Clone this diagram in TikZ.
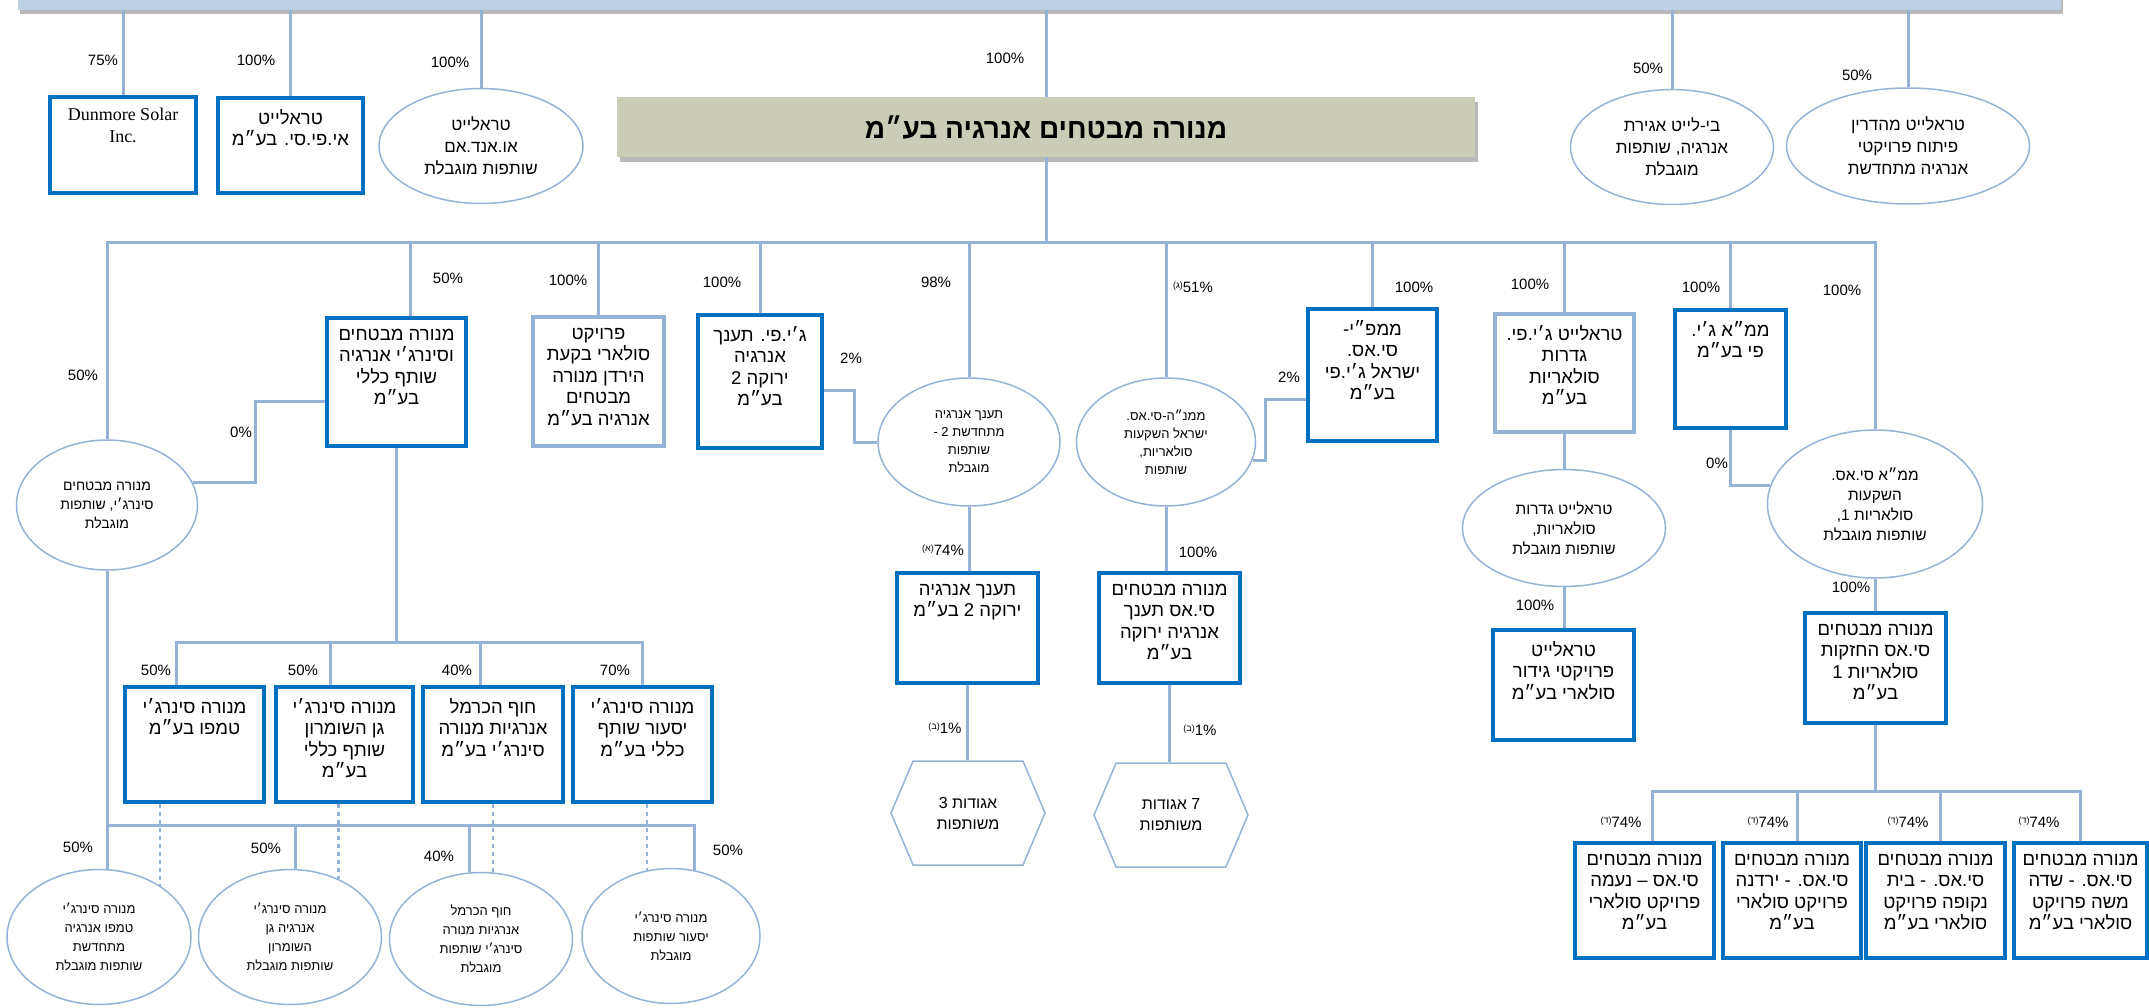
\documentclass[tikz,border=0pt]{standalone}
\usepackage{fontspec}
\setmainfont{Liberation Sans}
\newfontfamily\hebfont[Script=Hebrew]{Liberation Sans}
\newfontfamily\serifont{Liberation Serif}
\TeXXeTstate=1
\usetikzlibrary{shapes.geometric,shapes.symbols,shadows}
\definecolor{boxblue}{RGB}{0,112,192}
\definecolor{lineblue}{RGB}{149,179,215}
\definecolor{barblue}{RGB}{190,208,228}
\definecolor{khaki}{RGB}{202,204,181}
\newcommand{\hb}[1]{{\hebfont\beginR #1\endR}}
\newcommand{\tbox}[3]{\parbox[c][\dimexpr#2pt-22pt\relax][t]{\dimexpr#1pt-10pt\relax}{\centering #3}}
\newcommand{\fn}[1]{\raisebox{4pt}{\fontsize{9}{9}\selectfont(\hb{#1})}}
\tikzset{
  link/.style={draw=lineblue,line width=3pt},
  dotlink/.style={draw=lineblue,line width=2.5pt,dash pattern=on 4pt off 4pt},
  bluebox/.style={rectangle,draw=boxblue,line width=4pt,fill=white,inner xsep=5pt,inner ysep=11pt,font=\fontsize{18.5}{21.5}\selectfont},
  palebox/.style={bluebox,draw=lineblue},
  oval/.style={ellipse,draw=lineblue,line width=1.5pt,fill=white,inner sep=0pt,align=center,font=\fontsize{14}{19}\selectfont},
  bigoval/.style={oval,font=\fontsize{17}{22}\selectfont},
  hexbox/.style={signal,signal to=east and west,signal pointer angle=134,draw=lineblue,line width=1.5pt,fill=white,inner sep=0pt,align=center,font=\fontsize{16}{21}\selectfont},
  pct/.style={inner sep=0pt,font=\fontsize{15}{18}\selectfont},
  topbar/.style={rectangle,fill=barblue,minimum width=2043pt,minimum height=40pt,drop shadow={shadow xshift=2pt,shadow yshift=-4pt,fill=black!55}},
  title/.style={rectangle,fill=khaki,minimum width=858pt,minimum height=60pt,font=\fontsize{28}{32}\selectfont\bfseries,drop shadow={shadow xshift=3pt,shadow yshift=-5pt,fill=black!55}},
}
\begin{document}
\begin{tikzpicture}[x=1pt,y=-1pt]
\useasboundingbox (0,0) rectangle (2149,1008);
\clip (0,0) rectangle (2149,1008);
%owners
\node[topbar] (topbar) at (1039.5,-10) {};
%top row
\node[bluebox,minimum width=146pt,minimum height=96pt] (dunmore) at (123,145) {\tbox{146}{96}{\serifont\fontsize{18}{22}\selectfont Dunmore Solar\\Inc.}};
\node[bluebox,minimum width=145pt,minimum height=95pt] (tlaps) at (290.5,145.5) {\tbox{145}{95}{\hb{טראלייט}\\\hb{אי.פי.סי. בע״מ}}};
\node[bigoval,minimum width=204pt,minimum height=115pt] (tlom) at (481,146) {\hb{טראלייט}\\\hb{או.אנד.אם}\\\hb{שותפות מוגבלת}};
\node[title] (menora) at (1046,127) {\hb{מנורה מבטחים אנרגיה בע״מ}};
\node[bigoval,minimum width=203pt,minimum height=115pt] (blite) at (1672,147) {\hb{בי-לייט אגירת}\\\hb{אנרגיה, שותפות}\\\hb{מוגבלת}};
\node[bigoval,minimum width=243pt,minimum height=116pt] (tlmeh) at (1908,146) {\hb{טראלייט מהדרין}\\\hb{פיתוח פרויקטי}\\\hb{אנרגיה מתחדשת}};
\foreach \n in {dunmore,tlaps,tlom,menora,blite,tlmeh} \draw[link] (topbar.south -| \n.north) -- (\n.north);
\node[pct] (p1) at (103,60) {75\%};
\node[pct] (p2) at (256,60) {100\%};
\node[pct] (p3) at (450,62) {100\%};
\node[pct] (p4) at (1005,58) {100\%};
\node[pct] (p5) at (1648,68) {50\%};
\node[pct] (p6) at (1857,75) {50\%};
%second row
\node[oval,minimum width=181pt,minimum height=130pt] (msyn) at (107,505) {\hb{מנורה מבטחים}\\\hb{סינרג׳י, שותפות}\\\hb{מוגבלת}};
\node[bluebox,minimum width=139pt,minimum height=128pt] (mvsyn) at (396.5,382) {\tbox{139}{128}{\hb{מנורה מבטחים}\\\hb{וסינרג׳י אנרגיה}\\\hb{שותף כללי}\\\hb{בע״מ}}};
\node[palebox,minimum width=131pt,minimum height=129pt] (pbkaat) at (598.5,381.5) {\tbox{131}{129}{\hb{פרויקט}\\\hb{סולארי בקעת}\\\hb{הירדן מנורה}\\\hb{מבטחים}\\\hb{אנרגיה בע״מ}}};
\node[bluebox,minimum width=124pt,minimum height=133pt] (gptaanach) at (760,381.5) {\tbox{124}{133}{\hb{ג׳י.פי. תענך}\\\hb{אנרגיה}\\\hb{ירוקה 2}\\\hb{בע״מ}}};
\node[oval,minimum width=182pt,minimum height=128pt,font=\fontsize{13}{18}\selectfont] (taan2) at (969,442) {\hb{תענך אנרגיה}\\\hb{מתחדשת 2 -}\\\hb{שותפות}\\\hb{מוגבלת}};
\node[oval,minimum width=179pt,minimum height=128pt,font=\fontsize{13}{18}\selectfont] (mmnhcs) at (1166,442) {\hb{ממנ״ה-סי.אס.}\\\hb{ישראל השקעות}\\\hb{סולאריות,}\\\hb{שותפות}};
\node[bluebox,minimum width=129pt,minimum height=132pt] (mmpcs) at (1372.5,375) {\tbox{129}{132}{\hb{ממפ״י-}\\\hb{סי.אס.}\\\hb{ישראל ג׳י.פי}\\\hb{בע״מ}}};
\node[palebox,minimum width=139pt,minimum height=118pt] (tlgp) at (1564.5,373) {\tbox{139}{118}{\hb{טראלייט ג׳י.פי.}\\\hb{גדרות}\\\hb{סולאריות}\\\hb{בע״מ}}};
\node[bluebox,minimum width=111pt,minimum height=118pt] (mmagp) at (1730.5,369) {\tbox{111}{118}{\hb{ממ״א ג׳י.}\\\hb{פי בע״מ}}};
\node[oval,minimum width=215pt,minimum height=148pt,font=\fontsize{15.5}{20}\selectfont] (mmacs) at (1875,504) {\hb{ממ״א סי.אס.}\\\hb{השקעות}\\\hb{סולאריות 1,}\\\hb{שותפות מוגבלת}};
\draw[link] (menora.south) -- ++(0,85) coordinate (b1);
\foreach \n in {msyn.north,mvsyn.78,pbkaat.north,gptaanach.north,taan2.north,mmnhcs.north,mmpcs.north,tlgp.north,mmagp.north,mmacs.north} \draw[link] (b1) -| (\n);
\draw[link] (mvsyn.195) -- ++(-70,0) |- (msyn.15);
\draw[link] (gptaanach.-8) -- ++(30,0) |- (taan2.west);
\draw[link] (mmpcs.200) -- ++(-41,0) |- (mmnhcs.-12);
\draw[link] (mmagp.south) |- (mmacs.170);
\node[pct] (p7) at (83,375) {50\%};
\node[pct] (p8) at (448,278) {50\%};
\node[pct] (p9) at (241,432) {0\%};
\node[pct] (p10) at (568,280) {100\%};
\node[pct] (p11) at (722,282) {100\%};
\node[pct] (p12) at (851,358) {2\%};
\node[pct] (p13) at (936,282) {98\%};
\node[pct] (p14) at (1193,287) {\fn{ג}51\%};
\node[pct] (p15) at (1414,287) {100\%};
\node[pct] (p16) at (1289,377) {2\%};
\node[pct] (p17) at (1530,284) {100\%};
\node[pct] (p18) at (1701,287) {100\%};
\node[pct] (p19) at (1717,463) {0\%};
\node[pct] (p20) at (1842,290) {100\%};
%taanach branch
\node[bluebox,minimum width=141pt,minimum height=110pt] (taangr2) at (967.5,628) {\tbox{141}{110}{\hb{תענך אנרגיה}\\\hb{ירוקה 2 בע״מ}}};
\node[hexbox,minimum width=154pt,minimum height=104pt] (hexa) at (968,813) {\hb{אגודות 3}\\\hb{משותפות}};
\node[bluebox,minimum width=141pt,minimum height=110pt] (mcstaan) at (1169.5,628) {\tbox{141}{110}{\hb{מנורה מבטחים}\\\hb{סי.אס תענך}\\\hb{אנרגיה ירוקה}\\\hb{בע״מ}}};
\node[hexbox,minimum width=154pt,minimum height=104pt] (hexb) at (1171,815) {\hb{7 אגודות}\\\hb{משותפות}};
\draw[link] (taan2.south) -- (taan2.south |- taangr2.north);
\draw[link] (taangr2.south) -- (taangr2.south |- hexa.north);
\draw[link] (mmnhcs.south) -- (mmnhcs.south |- mcstaan.north);
\draw[link] (mcstaan.south) -- (mcstaan.south |- hexb.north);
\node[pct] (p21) at (943,550) {\fn{א}74\%};
\node[pct] (p22) at (945,728) {\fn{ב}1\%};
\node[pct] (p23) at (1198,552) {100\%};
\node[pct] (p24) at (1200,730) {\fn{ב}1\%};
%fences branch
\node[oval,minimum width=203pt,minimum height=117pt,font=\fontsize{15.5}{20}\selectfont] (tlgdr) at (1564,528) {\hb{טראלייט גדרות}\\\hb{סולאריות,}\\\hb{שותפות מוגבלת}};
\node[bluebox,minimum width=141pt,minimum height=110pt] (tlgidur) at (1563.5,685) {\tbox{141}{110}{\hb{טראלייט}\\\hb{פרויקטי גידור}\\\hb{סולארי בע״מ}}};
\draw[link] (tlgp.south) -- (tlgp.south |- tlgdr.north);
\draw[link] (tlgdr.south) -- (tlgdr.south |- tlgidur.north);
\node[pct] (p25) at (1535,605) {100\%};
%holdings branch
\node[bluebox,minimum width=141pt,minimum height=110pt] (mcshold) at (1875.5,668) {\tbox{141}{110}{\hb{מנורה מבטחים}\\\hb{סי.אס החזקות}\\\hb{סולאריות 1}\\\hb{בע״מ}}};
\node[bluebox,minimum width=139pt,minimum height=115pt] (pna) at (1644.5,900.5) {\tbox{139}{115}{\hb{מנורה מבטחים}\\\hb{סי.אס – נעמה}\\\hb{פרויקט סולארי}\\\hb{בע״מ}}};
\node[bluebox,minimum width=138pt,minimum height=115pt] (pyr) at (1792,900.5) {\tbox{138}{115}{\hb{מנורה מבטחים}\\\hb{סי.אס. - ירדנה}\\\hb{פרויקט סולארי}\\\hb{בע״מ}}};
\node[bluebox,minimum width=139pt,minimum height=115pt] (pbn) at (1935.5,900.5) {\tbox{139}{115}{\hb{מנורה מבטחים}\\\hb{סי.אס. - בית}\\\hb{נקופה פרויקט}\\\hb{סולארי בע״מ}}};
\node[bluebox,minimum width=133pt,minimum height=115pt] (psm) at (2080.5,900.5) {\tbox{133}{115}{\hb{מנורה מבטחים}\\\hb{סי.אס. - שדה}\\\hb{משה פרויקט}\\\hb{סולארי בע״מ}}};
\draw[link] (mmacs.south) -- (mmacs.south |- mcshold.north);
\draw[link] (mcshold.south) -- ++(0,66) coordinate (b3);
\foreach \n in {pna.82,pyr.85,pbn.85,psm.north} \draw[link] (b3) -| (\n);
\node[pct] (p26) at (1851,587) {100\%};
\node[pct] (p27) at (1621,822) {\fn{ד}74\%};
\node[pct] (p28) at (1768,822) {\fn{ד}74\%};
\node[pct] (p29) at (1908,822) {\fn{ד}74\%};
\node[pct] (p30) at (2039,822) {\fn{ד}74\%};
%synergy branch
\node[bluebox,minimum width=139pt,minimum height=115pt] (stmf) at (194.5,744.5) {\tbox{139}{115}{\hb{מנורה סינרג׳י}\\\hb{טמפו בע״מ}}};
\node[bluebox,minimum width=137pt,minimum height=115pt] (sgan) at (344.5,744.5) {\tbox{137}{115}{\hb{מנורה סינרג׳י}\\\hb{גן השומרון}\\\hb{שותף כללי}\\\hb{בע״מ}}};
\node[bluebox,minimum width=140pt,minimum height=115pt] (hof) at (493,744.5) {\tbox{140}{115}{\hb{חוף הכרמל}\\\hb{אנרגיות מנורה}\\\hb{סינרג׳י בע״מ}}};
\node[bluebox,minimum width=139pt,minimum height=115pt] (yas) at (642.5,744.5) {\tbox{139}{115}{\hb{מנורה סינרג׳י}\\\hb{יסעור שותף}\\\hb{כללי בע״מ}}};
\node[oval,minimum width=184pt,minimum height=135pt,font=\fontsize{13}{19}\selectfont] (estmf) at (99,937) {\hb{מנורה סינרג׳י}\\\hb{טמפו אנרגיה}\\\hb{מתחדשת}\\\hb{שותפות מוגבלת}};
\node[oval,minimum width=183pt,minimum height=135pt,font=\fontsize{13}{19}\selectfont] (esgan) at (290,937) {\hb{מנורה סינרג׳י}\\\hb{אנרגיה גן}\\\hb{השומרון}\\\hb{שותפות מוגבלת}};
\node[oval,minimum width=183pt,minimum height=133pt,font=\fontsize{13}{19}\selectfont] (ehof) at (481,939) {\hb{חוף הכרמל}\\\hb{אנרגיות מנורה}\\\hb{סינרג׳י שותפות}\\\hb{מוגבלת}};
\node[oval,minimum width=178pt,minimum height=135pt,font=\fontsize{13}{19}\selectfont] (eyas) at (671,936) {\hb{מנורה סינרג׳י}\\\hb{יסעור שותפות}\\\hb{מוגבלת}};
\draw[link] (mvsyn.south) -- ++(0,194) coordinate (b2);
\foreach \n in {stmf.107,sgan.103,hof.102,yas.north} \draw[link] (b2) -| (\n);
\draw[link] (msyn.south) -- ++(0,255) coordinate (b4);
\draw[link] (b4) -- (b4 |- estmf.north);
\foreach \n in {esgan.85,ehof.100,eyas.70} \draw[link] (b4) -| (\n);
\draw[dotlink] (estmf.40 |- stmf.south) -- (estmf.40);
\draw[dotlink] (esgan.50 |- sgan.south) -- (esgan.50);
\draw[dotlink] (ehof.80 |- hof.south) -- (ehof.80);
\draw[dotlink] (eyas.110 |- yas.south) -- (eyas.110);
\node[pct] (p31) at (156,670) {50\%};
\node[pct] (p32) at (303,670) {50\%};
\node[pct] (p33) at (457,670) {40\%};
\node[pct] (p34) at (615,670) {70\%};
\node[pct] (p35) at (78,847) {50\%};
\node[pct] (p36) at (266,848) {50\%};
\node[pct] (p37) at (439,856) {40\%};
\node[pct] (p38) at (728,850) {50\%};
\end{tikzpicture}
\end{document}
